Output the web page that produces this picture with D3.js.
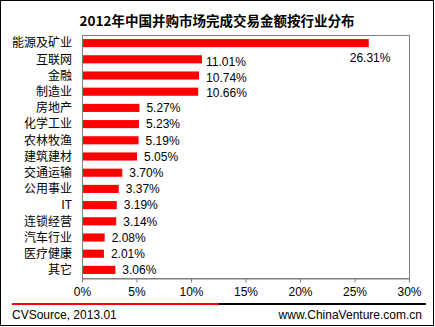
<!DOCTYPE html>
<html><head><meta charset="utf-8">
<script src="https://cdn.jsdelivr.net/npm/d3@7"></script>
<style>body{margin:0;background:#fff}svg{display:block}</style>
</head><body><svg id="c" width="435" height="327"></svg>
<script>
const categories = ["能源及矿业","互联网","金融","制造业","房地产","化学工业","农林牧渔","建筑建材","交通运输","公用事业","IT","连锁经营","汽车行业","医疗健康","其它"];
const values = [26.31,11.01,10.74,10.66,5.27,5.23,5.19,5.05,3.70,3.37,3.19,3.14,2.08,2.01,3.06];
const xTicks = [0,5,10,15,20,25,30];
const title = "2012年中国并购市场完成交易金额按行业分布";
const sourceText = "CVSource, 2013.01";
const siteText = "www.ChinaVenture.com.cn";

const svg = d3.select("#c");
const latin = "'Liberation Sans', Arial, sans-serif";
const cjk = "'Noto Sans CJK SC', 'Liberation Sans', sans-serif";
const L = 82, R = 409, T = 35, B = 278;

svg.append("rect").attr("x",0.5).attr("y",0.5).attr("width",433).attr("height",325)
  .attr("fill","#fff").attr("stroke","#000").attr("stroke-width",1);

svg.append("text").attr("x",217).attr("y",26).attr("text-anchor","middle")
  .attr("font-family",cjk).attr("font-weight","bold").attr("font-size",13.5)
  .attr("fill","#000").text(title);

const x = d3.scaleLinear().domain([0,30]).range([L,R]);
const y = d3.scaleBand().domain(categories).range([T,B]).paddingInner(0.5).paddingOuter(0.25);

// plot frame
svg.append("rect").attr("x",L+0.5).attr("y",T+0.5).attr("width",R-L).attr("height",B-T)
  .attr("fill","none").attr("stroke","#808080").attr("stroke-width",1);

svg.append("g").selectAll("rect").data(values).join("rect")
  .attr("x",L+1).attr("y",(d,i)=>y(categories[i]))
  .attr("width",d=>x(d)-L-1).attr("height",y.bandwidth()).attr("fill","#ff0000");

// x axis
const ax = svg.append("g").attr("transform",`translate(0,${B+0.5})`)
  .call(d3.axisBottom(x).tickValues(xTicks).tickSize(4).tickSizeOuter(0).tickFormat(d=>d+"%"));
ax.select(".domain").attr("stroke","#808080");
ax.selectAll(".tick line").attr("stroke","#808080");
ax.selectAll(".tick text").attr("font-family",latin).attr("font-size",12).attr("fill","#000").attr("dy","0.9em");

// category labels
svg.append("g").selectAll("text").data(categories).join("text")
  .attr("x",72).attr("y",d=>y(d)+y.bandwidth()/2).attr("dy","0.36em")
  .attr("text-anchor","end").attr("font-family",cjk).attr("font-size",12).attr("fill","#000")
  .text(d=>d);

// value labels (top labels nudged as in the original Excel layout)
const nudge = {0:[-19,15], 1:[4,2], 2:[7,2], 3:[8,1]};
svg.append("g").selectAll("text").data(values).join("text")
  .attr("x",(d,i)=>x(d)+(nudge[i]?nudge[i][0]:7))
  .attr("y",(d,i)=>y(categories[i])+y.bandwidth()/2+(nudge[i]?nudge[i][1]:0)).attr("dy","0.36em")
  .attr("font-family",latin).attr("font-size",12).attr("fill","#000")
  .text(d=>d.toFixed(2)+"%");

// footer
svg.append("line").attr("x1",12).attr("x2",219).attr("y1",304).attr("y2",304).attr("stroke","#ff0000").attr("stroke-width",2);
svg.append("line").attr("x1",219).attr("x2",426).attr("y1",304).attr("y2",304).attr("stroke","#000").attr("stroke-width",2);
svg.append("text").attr("x",12).attr("y",319).attr("font-family",latin).attr("font-size",12).attr("fill","#000").text(sourceText);
svg.append("text").attr("x",422).attr("y",319).attr("text-anchor","end").attr("font-family",latin).attr("font-size",12).attr("fill","#000").text(siteText);
</script></body></html>
